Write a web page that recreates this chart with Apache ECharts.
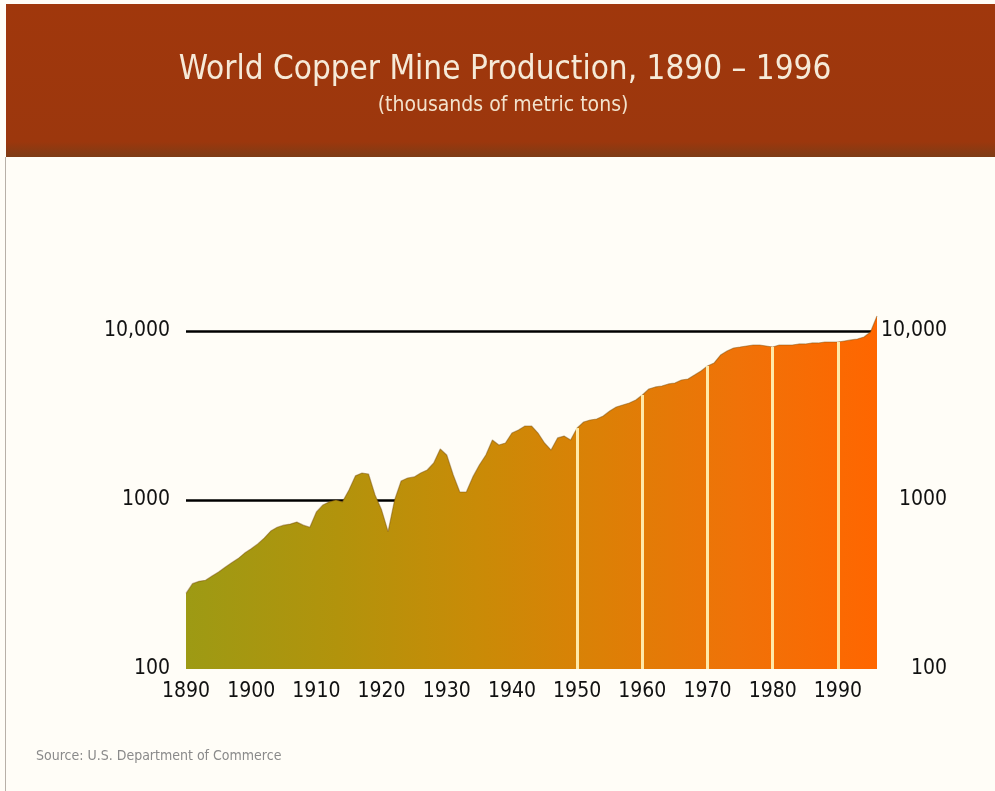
<!DOCTYPE html>
<html>
<head>
<meta charset="utf-8">
<script src="https://cdn.jsdelivr.net/npm/echarts@6/dist/echarts.min.js"></script>
<style>
  html, body { margin: 0; padding: 0; background: #fffdf7; }
  #chart { width: 995px; height: 791px; }
</style>
</head>
<body>
<div id="chart"></div>
<script>
// World copper mine production, thousands of metric tons, one value per year
const years = [
  1890, 1891, 1892, 1893, 1894, 1895, 1896, 1897, 1898, 1899,
  1900, 1901, 1902, 1903, 1904, 1905, 1906, 1907, 1908, 1909,
  1910, 1911, 1912, 1913, 1914, 1915, 1916, 1917, 1918, 1919,
  1920, 1921, 1922, 1923, 1924, 1925, 1926, 1927, 1928, 1929,
  1930, 1931, 1932, 1933, 1934, 1935, 1936, 1937, 1938, 1939,
  1940, 1941, 1942, 1943, 1944, 1945, 1946, 1947, 1948, 1949,
  1950, 1951, 1952, 1953, 1954, 1955, 1956, 1957, 1958, 1959,
  1960, 1961, 1962, 1963, 1964, 1965, 1966, 1967, 1968, 1969,
  1970, 1971, 1972, 1973, 1974, 1975, 1976, 1977, 1978, 1979,
  1980, 1981, 1982, 1983, 1984, 1985, 1986, 1987, 1988, 1989,
  1990, 1991, 1992, 1993, 1994, 1995, 1996
];
const production = [
  280, 320, 330, 335, 355, 375, 400, 425, 450, 485,
  515, 550, 595, 655, 690, 710, 720, 740, 710, 690,
  850, 935, 975, 1000, 975, 1145, 1390, 1445, 1425, 1070,
  875, 650, 1000, 1295, 1350, 1370, 1445, 1505, 1655, 2005,
  1845, 1405, 1115, 1115, 1370, 1610, 1845, 2265, 2115, 2175,
  2490, 2595, 2740, 2740, 2490, 2175, 1975, 2330, 2390, 2265,
  2665, 2895, 2975, 3015, 3140, 3365, 3550, 3650, 3750, 3905,
  4180, 4540, 4665, 4725, 4860, 4925, 5130, 5200, 5490, 5800,
  6210, 6465, 7210, 7615, 7935, 8040, 8155, 8265, 8265, 8155,
  8040, 8265, 8265, 8265, 8380, 8380, 8495, 8495, 8610, 8610,
  8610, 8730, 8850, 8970, 9215, 9865, 12270
];
// Decades marked by pale dividers inside the filled area
const decadeMarks = [1950, 1960, 1970, 1980, 1990];
// Y axis tick labels (log scale)
const yTickLabels = { 100: '100', 1000: '1000', 10000: '10,000' };

const titleText = 'World Copper Mine Production, 1890 \u2013 1996';
const subtitleText = '(thousands of metric tons)';
const sourceText = 'Source: U.S. Department of Commerce';

const labelFont = '"DejaVu Sans Condensed", "Liberation Sans Narrow", "DejaVu Sans", sans-serif';

const chart = echarts.init(document.getElementById('chart'), null, { renderer: 'canvas' });

const points = years.map((y, i) => [y, production[i]]);
const dividers = decadeMarks.map(yr => [
  { coord: [yr, 100] },
  { coord: [yr, production[years.indexOf(yr)]] }
]);

const areaGradient = new echarts.graphic.LinearGradient(0, 0, 1, 0, [
  { offset: 0.00, color: '#9d9a14' },
  { offset: 0.22, color: '#b2930c' },
  { offset: 0.42, color: '#c98b07' },
  { offset: 0.60, color: '#dc8006' },
  { offset: 0.80, color: '#f07208' },
  { offset: 1.00, color: '#ff6600' }
]);

const option = {
  backgroundColor: '#fffdf7',
  animation: false,
  graphic: [
    {
      type: 'rect', z: 0,
      shape: { x: 6, y: 4, width: 989, height: 153 },
      style: {
        fill: new echarts.graphic.LinearGradient(0, 0, 0, 1, [
          { offset: 0, color: '#a0370c' },
          { offset: 0.9, color: '#9c370d' },
          { offset: 1, color: '#7e3c16' }
        ])
      }
    },
    {
      type: 'line', z: 0,
      shape: { x1: 5.5, y1: 157, x2: 5.5, y2: 791 },
      style: { stroke: '#b8b0a8', lineWidth: 1 }
    },
    {
      type: 'text', z: 10,
      style: {
        text: titleText, x: 505, y: 70,
        textAlign: 'center', textVerticalAlign: 'middle',
        fill: '#f6ead8',
        font: '33px ' + labelFont
      }
    },
    {
      type: 'text', z: 10,
      style: {
        text: subtitleText, x: 503, y: 106,
        textAlign: 'center', textVerticalAlign: 'middle',
        fill: '#f3e2cc',
        font: '21px ' + labelFont
      }
    },
    {
      type: 'text', z: 10,
      style: {
        text: sourceText, x: 36, y: 756,
        textAlign: 'left', textVerticalAlign: 'middle',
        fill: '#8a8a8a',
        font: '14px ' + labelFont
      }
    }
  ],
  grid: { left: 186, right: 118, top: 331, bottom: 122, containLabel: false },
  xAxis: {
    type: 'value',
    min: 1890, max: 1996, interval: 10,
    axisLine: { show: false },
    axisTick: { show: false },
    splitLine: { show: false },
    axisLabel: {
      margin: 12,
      fontSize: 21,
      color: '#111',
      fontFamily: labelFont,
      formatter: v => (v % 10 === 0 ? String(v) : '')
    }
  },
  yAxis: [
    {
      type: 'log', logBase: 10, min: 100, max: 10000,
      position: 'left',
      axisLine: { show: false },
      axisTick: { show: false },
      splitLine: { show: true, showMinLine: false, lineStyle: { color: '#000', width: 2.5 } },
      axisLabel: {
        margin: 16, fontSize: 21, color: '#111', fontFamily: labelFont,
        formatter: v => yTickLabels[Math.round(v)] || ''
      }
    },
    {
      type: 'log', logBase: 10, min: 100, max: 10000,
      position: 'right',
      axisLine: { show: false },
      axisTick: { show: false },
      splitLine: { show: false },
      axisLabel: {
        margin: 70, align: 'right', fontSize: 21, color: '#111', fontFamily: labelFont,
        formatter: v => yTickLabels[Math.round(v)] || ''
      }
    }
  ],
  series: [
    {
      type: 'line',
      data: points,
      yAxisIndex: 0,
      symbol: 'none',
      clip: false,
      z: 2,
      lineStyle: { color: 'rgba(115,75,10,0.45)', width: 1.2 },
      areaStyle: { color: areaGradient, opacity: 1, origin: 'start' },
      markLine: {
        silent: true,
        symbol: ['none', 'none'],
        label: { show: false },
        lineStyle: { color: '#ffe9a8', width: 3, type: 'solid' },
        data: dividers
      }
    }
  ]
};

chart.setOption(option);
</script>
</body>
</html>
